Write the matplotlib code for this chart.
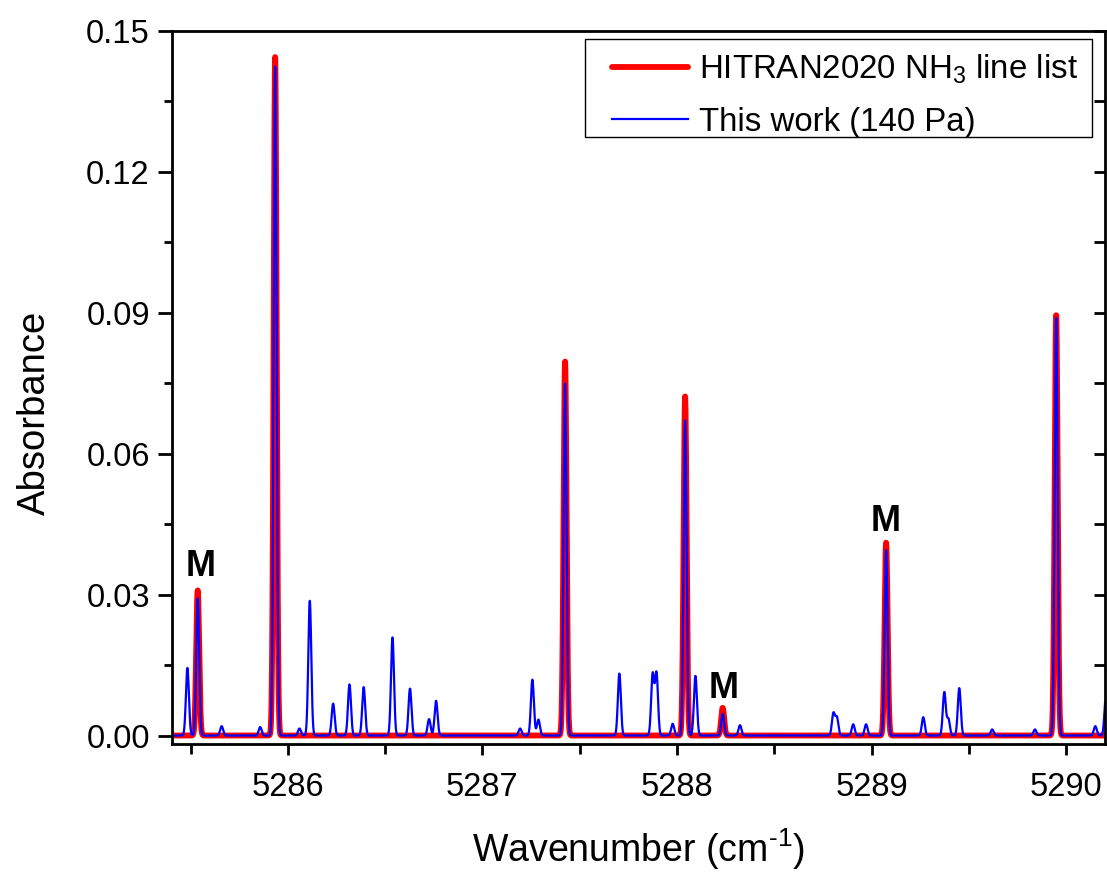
import numpy as np
import matplotlib
matplotlib.use("Agg")
import matplotlib.pyplot as plt
from matplotlib.ticker import MultipleLocator, FormatStrFormatter
from matplotlib import lines as mlines
from matplotlib.patches import Rectangle

plt.rcParams['font.family'] = ['Liberation Sans', 'DejaVu Sans']
plt.rcParams['mathtext.fontset'] = 'custom'
plt.rcParams['mathtext.rm'] = 'Liberation Sans'
plt.rcParams['mathtext.it'] = 'Liberation Sans'
plt.rcParams['mathtext.default'] = 'regular'

# HITRAN2020 line list: centres (cm-1) and peak absorbance
hitran_centres = [5285.537, 5285.935, 5287.425, 5288.042, 5288.235, 5289.075, 5289.949]
hitran_peaks = [0.0309, 0.1445, 0.0797, 0.0722, 0.0059, 0.0411, 0.0896]

# Measured spectrum (140 Pa): fitted line centres and peak absorbance
meas_centres = [5285.484, 5285.537, 5285.660, 5285.858, 5285.935, 5286.060, 5286.113,
                5286.233, 5286.317, 5286.390, 5286.538, 5286.628, 5286.726, 5286.762,
                5287.194, 5287.257, 5287.288, 5287.425, 5287.704, 5287.875, 5287.895,
                5287.978, 5288.042, 5288.095, 5288.235, 5288.324, 5288.804, 5288.822,
                5288.906, 5288.972, 5289.075, 5289.266, 5289.374, 5289.395, 5289.451,
                5289.620, 5289.840, 5289.949, 5290.150, 5290.205]
meas_peaks = [0.0144, 0.0292, 0.0020, 0.0018, 0.1425, 0.0015, 0.0287,
              0.0068, 0.0109, 0.0103, 0.0209, 0.0100, 0.0035, 0.0074,
              0.0015, 0.0119, 0.0034, 0.0750, 0.0132, 0.0130, 0.0132,
              0.0025, 0.0671, 0.0127, 0.0046, 0.0022, 0.0047, 0.0038,
              0.0024, 0.0024, 0.0395, 0.0039, 0.0092, 0.0035, 0.0101,
              0.0013, 0.0013, 0.0890, 0.0020, 0.0085]

# Labels marking the M lines: (wavenumber, absorbance)
m_labels_x = [5285.554, 5288.242, 5289.074]
m_labels_y = [0.0360, 0.0100, 0.0456]

FWHM = 0.018
sigma = FWHM / (2 * np.sqrt(2 * np.log(2)))
nu = np.linspace(5285.40, 5290.21, 6000)


def spectrum(centres, peaks):
    y = np.zeros_like(nu)
    for c, a in zip(centres, peaks):
        y += a * np.exp(-0.5 * ((nu - c) / sigma) ** 2)
    return y


W, H = 1107, 872
fig = plt.figure(figsize=(W / 100, H / 100), dpi=100)
ax = fig.add_axes([0.1554, 0.1468, 0.8428, 0.8176])

ax.plot(nu, spectrum(hitran_centres, hitran_peaks), color='#ff0000', lw=4.2,
        label='HITRAN2020 NH$_3$ line list', solid_capstyle='round')
ax.plot(nu, spectrum(meas_centres, meas_peaks), color='#0000ff', lw=1.6,
        label='This work (140 Pa)')

for x, y in zip(m_labels_x, m_labels_y):
    ax.text(x, y, 'M', fontsize=26, fontweight='bold', ha='center', va='center')

ax.set_xlim(5285.405, 5290.2)
ax.set_ylim(-0.0018, 0.15)
ax.xaxis.set_major_locator(MultipleLocator(1))
ax.xaxis.set_minor_locator(MultipleLocator(0.5))
ax.yaxis.set_major_locator(MultipleLocator(0.03))
ax.yaxis.set_minor_locator(MultipleLocator(0.015))
ax.yaxis.set_major_formatter(FormatStrFormatter('%.2f'))
ax.xaxis.set_major_formatter(FormatStrFormatter('%d'))

for s in ax.spines.values():
    s.set_linewidth(2.0)

ax.tick_params(axis='x', which='major', direction='out', length=8, width=2,
               labelsize=23.5, pad=12, top=False)
ax.tick_params(axis='x', which='minor', direction='out', length=7, width=2, top=False)
ax.tick_params(axis='y', which='major', direction='out', length=10, width=2,
               labelsize=23.5, pad=6)
ax.tick_params(axis='y', which='minor', direction='out', length=6, width=2)
# inward ticks on the right edge
ax.tick_params(axis='y', which='both', right=True)
for t in ax.yaxis.get_major_ticks() + ax.yaxis.get_minor_ticks():
    t.tick2line.set_marker(mlines.TICKLEFT)
    t.tick2line.set_markersize(8)

ax.set_xlabel('Wavenumber (cm$^{\u20101}$)', fontsize=27)
ax.xaxis.set_label_coords(0.5, -0.115)
ax.set_ylabel('Absorbance', fontsize=27.5)
ax.yaxis.set_label_coords(-0.128, 0.465)

# legend box and entries
box = Rectangle((585 / W, 1 - 137 / H), 507 / W, 98 / H, transform=fig.transFigure,
                facecolor='white', edgecolor='black', lw=1.0, zorder=4)
ax.add_patch(box)
leg = ax.legend(loc='upper right', fontsize=23.8, frameon=False,
                borderpad=0.0, borderaxespad=0.0, handlelength=2.3,
                handletextpad=0.33, labelspacing=0.62,
                bbox_to_anchor=(1078 / W, 1 - 53 / H),
                bbox_transform=fig.transFigure)
leg.set_zorder(5)

fig.savefig('out.png', dpi=100)
